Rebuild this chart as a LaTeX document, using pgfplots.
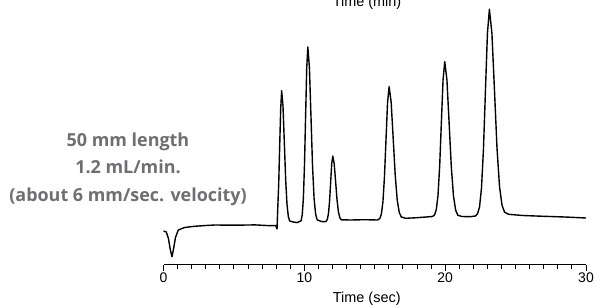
\documentclass[border=0pt]{standalone}
\usepackage{pgfplots}
\pgfplotsset{compat=1.18}
\usepackage{fontspec}
\setmainfont{Liberation Sans}
\newfontfamily\labelfont{Open Sans}
\definecolor{txtgray}{RGB}{110,111,114}
\begin{document}
\begin{tikzpicture}
\useasboundingbox (0,0) rectangle (596bp,307bp);
\clip (0,0) rectangle (596bp,307bp);
\begin{axis}[
  at={(163.5bp,42.5bp)}, anchor=south west,
  scale only axis,
  width=422.5bp, height=264.5bp,
  xmin=0, xmax=30, ymin=0, ymax=264.5,
  axis x line=bottom, axis y line=none,
  x axis line style={-, line width=1.1bp},
  xtick={0,10,20,30},
  minor x tick num=9,
  tick align=outside,
  major tick length=6bp, minor tick length=4bp,
  every tick/.style={black, line width=1bp},
  tick label style={font=\fontsize{14}{16}\selectfont},
  /pgf/number format/assume math mode=true,
  xticklabel style={yshift=1bp},
  xlabel={Time (sec)},
  xlabel style={font=\fontsize{14.5}{16}\selectfont, yshift=-2bp, xshift=-8bp},
  clip=false,
]
\addplot[black, line width=1.4bp, line join=round] coordinates {
(0,33.5) (0.2,32.5) (0.35,26) (0.48,15) (0.6,7.8) (0.72,16) (0.85,27) (1.05,34.5)
(1.5,37) (2.2,38.2) (3.0,39.0) (3.66,39.5) (5.0,39.3) (6.5,39.6) (7.57,38.8) (7.96,39) (8.06,35.5)
(8.11,55.1) (8.18,80.5) (8.25,118.3) (8.32,155.3) (8.39,173.8)
(8.485,158.3) (8.58,121.9) (8.675,84.8) (8.77,59.8) (8.865,47.8) (8.96,43.5) (9.2,42.5) (9.5,41.9)
(9.77,43.8) (9.85,49.5) (9.93,65.6) (10.01,98.9) (10.09,148.4) (10.17,196.9) (10.25,217.5)
(10.36,197.0) (10.47,148.8) (10.58,99.5) (10.69,66.4) (10.80,50.5) (10.91,44.7) (11.2,43.0) (11.47,42.8)
(11.57,43.5) (11.645,45.7) (11.72,51.7) (11.795,64.1) (11.87,82.6) (11.945,100.8) (12.02,108.5)
(12.12,100.9) (12.22,83.1) (12.32,64.9) (12.42,52.7) (12.52,46.8) (12.62,44.7) (13.3,44.5) (14.3,44.8) (15.2,44.5)
(15.36,46.0) (15.47,50.4) (15.58,62.5) (15.69,87.8) (15.80,125.3) (15.91,162.1) (16.02,177.8)
(16.165,162.3) (16.31,125.9) (16.455,88.8) (16.60,63.8) (16.745,51.8) (16.89,47.5) (17.2,46.2) (18.0,46.8) (19.1,48.0)
(19.25,49.7) (19.37,54.8) (19.49,68.9) (19.61,98.3) (19.73,141.9) (19.85,184.6) (19.97,202.8)
(20.125,184.6) (20.28,141.7) (20.435,97.9) (20.59,68.5) (20.745,54.3) (20.90,49.2) (21.2,48.0) (21.77,47.8) (22.15,48.5)
(22.30,50.8) (22.44,57.6) (22.58,76.5) (22.72,115.6) (22.86,173.9) (23.00,230.9) (23.14,255.2)
(23.32,231.1) (23.50,174.5) (23.68,116.6) (23.86,77.8) (24.04,59.0) (24.22,52.3) (24.5,50.2) (25.5,49.0)
(27,48.2) (28.5,47.5) (30,46.5)
};
\end{axis}
\node[anchor=base, font=\fontsize{14.5}{16}\selectfont] at (367bp,300.5bp) {Time (min)};
\node[align=center, text=txtgray, font=\labelfont\bfseries\fontsize{18}{27.5}\selectfont] at (128bp,138bp)
  {50 mm length\\1.2 mL/min.\\(about 6 mm/sec. velocity)};
\end{tikzpicture}
\end{document}
